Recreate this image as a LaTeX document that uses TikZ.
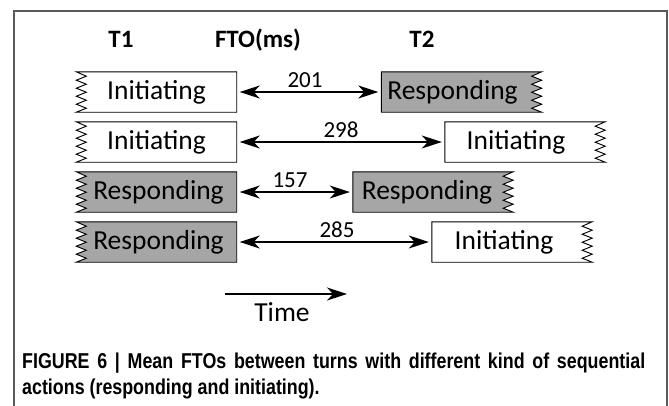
\documentclass[tikz,border=0pt]{standalone}
\usepackage{fontspec}
\setmainfont{Carlito}
\newfontfamily\capfont[FakeStretch=0.83]{Liberation Sans}
\usetikzlibrary{arrows.meta}
\newcommand\zzLeft[2]{%
  \draw[boxline,#2] (#1.north east) -- (#1.south east) -- (#1.south west)
    \foreach \k [evaluate=\k as \dx using {10*mod(\k,2)}, evaluate=\k as \dy using {4*\k}] in {1,...,9}{ -- ([xshift=\dx pt, yshift=\dy pt]#1.south west) }
    -- (#1.north west) -- cycle;}
\newcommand\zzRight[2]{%
  \draw[boxline,#2] (#1.north east) -- (#1.north west) -- (#1.south west) -- (#1.south east)
    \foreach \k [evaluate=\k as \dx using {10*mod(\k,2)}, evaluate=\k as \dy using {4*\k}] in {1,...,9}{ -- ([xshift=-\dx pt, yshift=\dy pt]#1.south east) }
    -- cycle;}
\begin{document}
\begin{tikzpicture}[x=1pt,y=-1pt,
  boxline/.style={draw=black, line width=0.9pt},
  turnbox/.style={minimum width=160pt, minimum height=40pt, inner sep=0pt, draw=none},
  boxtext/.style={font=\fontsize{27.5}{31}\selectfont, inner sep=0pt},
  fto/.style={line width=1.2pt, {Stealth[length=20pt,width=13pt,inset=6pt]}-{Stealth[length=20pt,width=13pt,inset=6pt]}, shorten <=3pt, shorten >=3pt},
  ftolabel/.style={font=\fontsize{23}{26}\selectfont, inner sep=0pt},
  head/.style={font=\bfseries\fontsize{25}{28}\selectfont, anchor=base, inner sep=0pt},
  resp/.style={fill=gray!70},
  init/.style={fill=white},
  caption/.style={font=\capfont\bfseries\fontsize{21.5}{24}\selectfont, anchor=base west, inner sep=0pt},
]
\useasboundingbox (0,0) rectangle (669,405);
\draw[draw=black!65, line width=1.5pt] (14,410) -- (14,11) -- (667,11) -- (667,410);

% headers
\node[head] (h1) at (121,47) {T1};
\node[head] (h2) at (258,47) {FTO(ms)};
\node[head] (h3) at (422,47) {T2};

% row boxes
\node[turnbox] (a1) at (156.5,92) {};
\node[turnbox] (b1) at (461.5,92) {};
\node[turnbox] (a2) at (156.5,142) {};
\node[turnbox] (b2) at (525,142) {};
\node[turnbox] (a3) at (156.5,192) {};
\node[turnbox] (b3) at (433,192) {};
\node[turnbox] (a4) at (156.5,242) {};
\node[turnbox] (b4) at (512,242) {};

\zzLeft{a1}{init}
\zzRight{b1}{resp}
\zzLeft{a2}{init}
\zzRight{b2}{init}
\zzLeft{a3}{resp}
\zzRight{b3}{resp}
\zzLeft{a4}{resp}
\zzRight{b4}{init}

\node[boxtext] (ta1) at (a1.center) {Initiating};
\node[boxtext] (tb1) at ([xshift=-9pt]b1.center) {Responding};
\node[boxtext] (ta2) at (a2.center) {Initiating};
\node[boxtext] (tb2) at ([xshift=-9pt]b2.center) {Initiating};
\node[boxtext] (ta3) at ([xshift=2pt]a3.center) {Responding};
\node[boxtext] (tb3) at ([xshift=-6pt]b3.center) {Responding};
\node[boxtext] (ta4) at ([xshift=2pt]a4.center) {Responding};
\node[boxtext] (tb4) at ([xshift=-8pt]b4.center) {Initiating};

% FTO arrows
\draw[fto] (a1.east) -- (b1.west);
\draw[fto] (a2.east) -- (b2.west);
\draw[fto] (a3.east) -- (b3.west);
\draw[fto] (a4.east) -- (b4.west);
\node[ftolabel] (l1) at (305,80) {201};
\node[ftolabel] (l2) at (341,130) {298};
\node[ftolabel] (l3) at (290,180) {157};
\node[ftolabel] (l4) at (337,230) {285};

% time arrow
\coordinate (t0) at (225,294);
\coordinate (t1) at (347,294);
\draw[line width=1.2pt, -{Stealth[length=20pt,width=13pt,inset=6pt]}] (t0) -- (t1);
\node[boxtext] (time) at (282,312) {Time};

% caption
\node[caption] (c1) at (22,368) {\makebox[623pt][s]{FIGURE 6 | Mean FTOs between turns with different kind of sequential}};
\node[caption] (c2) at (22,394) {actions (responding and initiating).};
\end{tikzpicture}
\end{document}
